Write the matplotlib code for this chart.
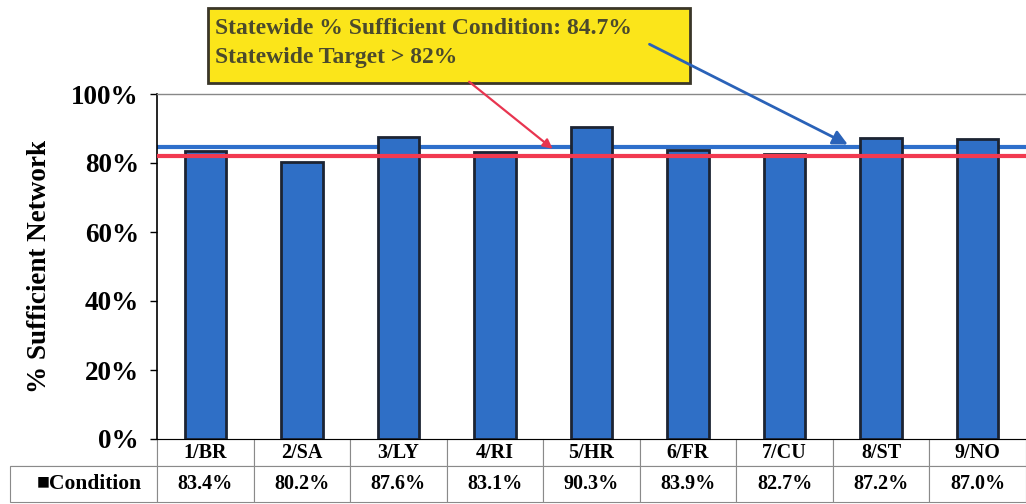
import matplotlib.pyplot as plt
import matplotlib.transforms as mtransforms
from matplotlib.patches import Rectangle
from matplotlib.ticker import FuncFormatter

# district labels and % sufficient condition
districts = ['1/BR', '2/SA', '3/LY', '4/RI', '5/HR', '6/FR', '7/CU', '8/ST', '9/NO']
condition = [83.4, 80.2, 87.6, 83.1, 90.3, 83.9, 82.7, 87.2, 87.0]
statewide = 84.7
target = 82.0
yticks = [0, 20, 40, 60, 80, 100]

serif = 'Liberation Serif'
plt.rcParams['font.family'] = serif
plt.rcParams['font.weight'] = 'bold'

fig = plt.figure(figsize=(10.26, 5.04), dpi=100)
ax = fig.add_axes([157 / 1026, 1 - 439 / 504, 869 / 1026, 345 / 504])

x = list(range(len(districts)))
ax.axhline(statewide, color='#2e6fcb', lw=3, zorder=1)
ax.bar(x, condition, width=0.43, color='#2f6fc6', edgecolor='#1c2433', lw=2, zorder=2)
ax.axhline(target, color='#f23a50', lw=3, zorder=3)

ax.set_xlim(-0.5, len(districts) - 0.5)
ax.set_ylim(0, 100)
ax.set_yticks(yticks)
ax.yaxis.set_major_formatter(FuncFormatter(lambda v, p: '%d%%' % v))
ax.tick_params(axis='y', labelsize=19.5, length=5, width=1, pad=8)
ax.set_xticks([])
for t in ax.get_yticklabels():
    t.set_fontweight('bold')
ax.set_ylabel('% Sufficient Network', fontsize=19.5, fontweight='bold', labelpad=14)
ax.spines['right'].set_visible(False)
ax.spines['top'].set_color('#888888')
ax.spines['top'].set_linewidth(1)
ax.spines['left'].set_linewidth(1.2)

# data table under the axis
label_w = 147 / 869
col_w = 1 / len(districts)
cell_text = [[''] + districts, ['\u25a0Condition'] + ['%.1f%%' % v for v in condition]]
tbl = ax.table(cellText=cell_text, colWidths=[label_w] + [col_w] * len(districts),
               cellLoc='center', bbox=[-label_w, -63 / 345, 1 + label_w, 63 / 345])
tbl.auto_set_font_size(False)
for (r, c), cell in tbl.get_celld().items():
    cell.set_edgecolor('#8a8a8a')
    cell.set_linewidth(0.8)
    cell.get_text().set_fontsize(14.5)
    cell.get_text().set_fontweight('bold')
    cell.get_text().set_fontfamily(serif)
    if r == 0:
        cell.set_height(27)
    else:
        cell.set_height(36)
tbl[0, 0].visible_edges = 'BR'
tbl[1, 0].get_text().set_fontsize(15.5)
tbl[1, 0].get_text().set_ha('right')
tbl[1, 0]._loc = 'right'

# yellow callout box (pixel coordinates, drawn inside the axes so arrows can sit on top)
px = mtransforms.IdentityTransform()
box = Rectangle((208, 504 - 83), 482, 75, transform=px, facecolor='#fbe51a',
                edgecolor='#3a3628', lw=2, zorder=5, clip_on=False)
ax.add_patch(box)
ax.text(215 / 1026, 1 - 43 / 504, 'Statewide % Sufficient Condition: 84.7%\nStatewide Target > 82%',
        transform=fig.transFigure, fontsize=17, fontweight='bold', color='#4b4a2c',
        va='center', ha='left', linespacing=1.55, zorder=6)

ax.annotate('', xy=(3.62, 83.6), xycoords='data', xytext=(467, 504 - 80), textcoords='figure pixels',
            arrowprops=dict(arrowstyle='-|>', color='#e83550', lw=1.6, mutation_scale=14),
            zorder=7, annotation_clip=False)
ax.annotate('', xy=(6.68, 85.0), xycoords='data', xytext=(647, 504 - 43), textcoords='figure pixels',
            arrowprops=dict(arrowstyle='-|>', color='#2a62b8', lw=2, mutation_scale=22),
            zorder=7, annotation_clip=False)

fig.savefig('out.png', dpi=100)
